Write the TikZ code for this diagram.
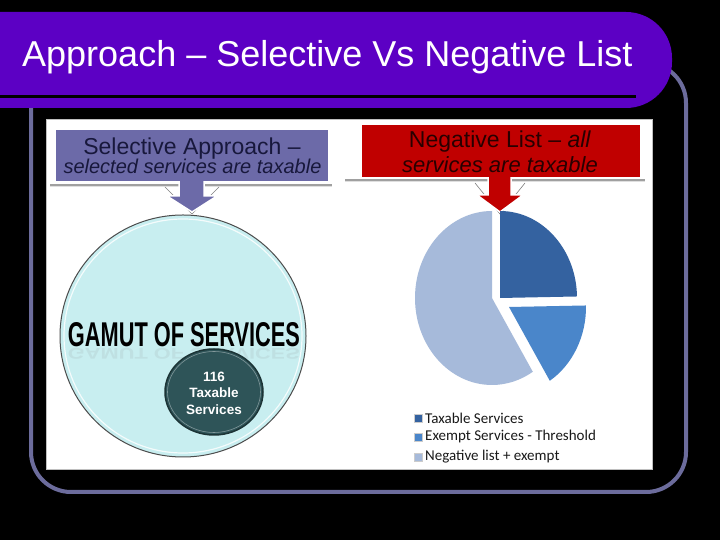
\documentclass[tikz,border=0pt]{standalone}
\usepackage{fontspec}
\usepackage{graphicx}
\setmainfont{Liberation Sans}
\newfontfamily\legendfont{Carlito}
\usetikzlibrary{shapes.geometric}
\definecolor{titlepurple}{RGB}{92,0,196}
\definecolor{framec}{RGB}{108,108,156}
\definecolor{slate}{RGB}{108,106,168}
\definecolor{navytext}{RGB}{24,24,60}
\definecolor{redbox}{RGB}{192,0,0}
\definecolor{redtext}{RGB}{40,0,0}
\definecolor{rulegray}{RGB}{160,160,160}
\definecolor{cyanlight}{RGB}{200,238,240}
\definecolor{tealdark}{RGB}{46,84,88}
\definecolor{tealedge}{RGB}{28,52,54}
\definecolor{taxblue}{RGB}{52,98,160}
\definecolor{exblue}{RGB}{74,134,202}
\definecolor{negblue}{RGB}{166,186,218}
\tikzset{
  headtext/.style={anchor=base, inner sep=0pt},
  vline/.style={draw=gray, line width=0.6pt},
  legendsq/.style={draw=white!60!gray, line width=0.4pt, minimum size=8.5pt, inner sep=0pt},
  legendtxt/.style={anchor=west, inner sep=0pt, text=black!90, font=\legendfont\fontsize{15}{17}\selectfont},
  bigarrow/.style={draw=white, line width=1.5pt}
}
\begin{document}
\begin{tikzpicture}[x=1pt,y=1pt]
\useasboundingbox (0,0) rectangle (720,540);
\clip (0,0) rectangle (720,540);
\fill[black] (0,0) rectangle (720,540);
% outer frame
\draw[framec, line width=4pt, rounded corners=40pt] (31,48) rectangle (686,477);
% title bar
\fill[titlepurple, rounded corners=46pt] (-60,432) rectangle (672,528);
\draw[black, line width=3pt] (0,443) -- (636,443);
\node[anchor=base west, text=white, inner sep=0pt, font=\fontsize{36}{40}\selectfont] (title) at (22,473) {Approach – Selective Vs Negative List};
% white panel
\node[fill=white, draw=gray!50, line width=0.5pt, anchor=south west, minimum width=606pt, minimum height=350pt, inner sep=0pt] (panel) at (46,70) {};
% ---- left side ----
\draw[rulegray, line width=1.2pt] (50,355) -- (332,355);
\draw[gray!25, line width=1pt] (50,353.8) -- (332,353.8);
\draw[vline] (165,353) -- (192,326) -- (219,353);
\filldraw[fill=slate, bigarrow] (179,366) -- (179,344) -- (167,344) -- (192,328) -- (217,344) -- (204,344) -- (204,366) -- cycle;
\node[fill=slate, anchor=south west, minimum width=272pt, minimum height=51pt, inner sep=0pt] (lhead) at (56,359) {};
\node[headtext, text=navytext, font=\fontsize{23}{26}\selectfont] (lh1) at (192,385) {Selective Approach –};
\node[headtext, text=navytext, font=\itshape\fontsize{20}{24}\selectfont] (lh2) at (192.5,366) {selected services are taxable};
% big circle
\node[ellipse, minimum width=246pt, minimum height=242pt, fill=cyanlight, draw=black!70, line width=1pt, inner sep=0pt] (gamut) at (183,204) {};
\draw[white, line width=1.2pt, opacity=0.8] (gamut.center) ellipse [x radius=119, y radius=117];
\node[inner sep=0pt, text=gray, opacity=0.12] (gamutrefl) at (184,186) {\scalebox{1}[-0.45]{\resizebox{232pt}{24pt}{\bfseries GAMUT OF SERVICES}}};
\node[inner sep=0pt] (gamuttext) at (184,205) {\resizebox{232pt}{24pt}{\bfseries GAMUT OF SERVICES}};
% small circle
\node[ellipse, minimum width=98pt, minimum height=86pt, fill=tealdark, draw=tealedge, line width=1.5pt, inner sep=0pt] (taxc) at (214,148) {};
\draw[white!40!tealdark, line width=0.6pt] (taxc.center) ellipse [x radius=46.5, y radius=40.5];
\node[align=center, text=white, inner sep=0pt, font=\bfseries\fontsize{13.5}{16.5}\selectfont] (taxt) at (214,147) {116\\Taxable\\Services};
% ---- right side ----
\draw[rulegray, line width=1.2pt] (345,360) -- (645,360);
\draw[gray!25, line width=1pt] (345,358.8) -- (645,358.8);
\draw[vline] (475,357) -- (500,326) -- (525,357);
\filldraw[fill=redbox, bigarrow] (488,370) -- (488,345) -- (477,345) -- (500,328) -- (523,345) -- (511,345) -- (511,370) -- cycle;
\node[fill=redbox, anchor=south west, minimum width=278pt, minimum height=52pt, inner sep=0pt] (rhead) at (362,363) {};
\node[headtext, text=redtext, font=\fontsize{23}{26}\selectfont] (rh1) at (500,392) {Negative List – \textit{all}};
\node[headtext, text=redtext, font=\itshape\fontsize{22}{26}\selectfont] (rh2) at (500,367) {services are taxable};
% pie
\fill[negblue] (492,242) -- ++(0,87) arc[start angle=90, end angle=302, x radius=77, y radius=87] -- cycle;
\fill[taxblue] (500,242) -- ++(0,87) arc[start angle=90, end angle=1, x radius=77, y radius=87] -- cycle;
\fill[exblue] (509,233) -- ++(1:77 and 87) arc[start angle=1, end angle=-58, x radius=77, y radius=87] -- cycle;
% legend
\node[legendsq, fill=taxblue] (lg1sq) at (418,122) {};
\node[legendsq, fill=exblue] (lg2sq) at (418,103) {};
\node[legendsq, fill=negblue] (lg3sq) at (418,83) {};
\node[legendtxt] (lg1) at (425,122) {Taxable Services};
\node[legendtxt] (lg2) at (425,103) {Exempt Services - Threshold};
\node[legendtxt] (lg3) at (425,83) {Negative list + exempt};
\end{tikzpicture}
\end{document}
